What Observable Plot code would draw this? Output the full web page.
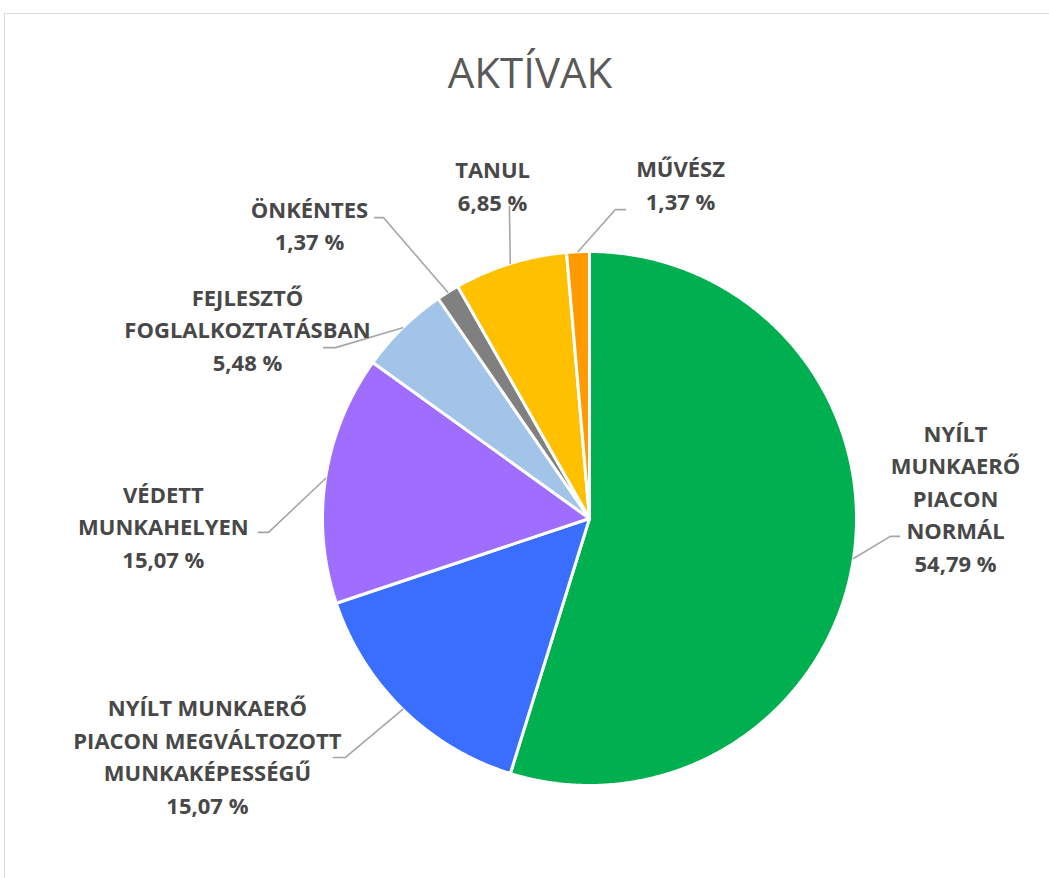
<!DOCTYPE html>
<html>
<head>
<meta charset="utf-8">
<script src="https://cdn.jsdelivr.net/npm/d3@7"></script>
<script src="https://cdn.jsdelivr.net/npm/@observablehq/plot@0.6"></script>
<style>
  html, body { margin: 0; padding: 0; background: #fff; overflow: hidden; }
  #frame { position: absolute; left: 4px; top: 13px; width: 1100px; height: 900px; border: 1.5px solid #d9d9d9; box-sizing: border-box; }
  #title { position: absolute; left: 0; top: 51px; width: 1060px; text-align: center; font-family: "Open Sans", sans-serif; font-size: 42px; line-height: 42px; color: #595959; font-weight: 400; }
  #chart { position: absolute; left: 0; top: 0; }
</style>
</head>
<body>
<div id="frame"></div>
<div id="title">AKTÍVAK</div>
<div id="chart"></div>
<script>
// ---- data ----
const categories = [
  "NYÍLT MUNKAERŐ PIACON NORMÁL",
  "NYÍLT MUNKAERŐ PIACON MEGVÁLTOZOTT MUNKAKÉPESSÉGŰ",
  "VÉDETT MUNKAHELYEN",
  "FEJLESZTŐ FOGLALKOZTATÁSBAN",
  "ÖNKÉNTES",
  "TANUL",
  "MŰVÉSZ"
];
const shares = [54.79, 15.07, 15.07, 5.48, 1.37, 6.85, 1.37];
const colors = ["#00b050", "#3a6eff", "#a06eff", "#a2c4e8", "#808080", "#ffc000", "#ff9a00"];

// label wrapping as in the original
const labelLines = [
  ["NYÍLT", "MUNKAERŐ", "PIACON", "NORMÁL"],
  ["NYÍLT MUNKAERŐ", "PIACON MEGVÁLTOZOTT", "MUNKAKÉPESSÉGŰ"],
  ["VÉDETT", "MUNKAHELYEN"],
  ["FEJLESZTŐ", "FOGLALKOZTATÁSBAN"],
  ["ÖNKÉNTES"],
  ["TANUL"],
  ["MŰVÉSZ"]
];

// ---- layout (in units of pie radius, relative to pie centre) ----
const W = 1049, H = 878;
const CX = 589, CY = 518, R = 267;
const labelPos = [[1.371, -0.083], [-1.431, 0.884], [-1.596, 0.024], [-1.281, -0.714], [-1.049, -1.104], [-0.363, -1.253], [0.341, -1.257]];
const elbowPos = [[1.127, 0.067], [-0.914, 0.895], [-1.202, 0.052], [-0.951, -0.640], [-0.772, -1.127], [-0.300, -1.169], [0.097, -1.157]];
const endPos   = [[1.161, 0.067], [-0.959, 0.895], [-1.240, 0.052], [-0.996, -0.640], [-0.805, -1.127], [-0.300, -1.169], [0.135, -1.157]];

const fmt = v => d3.format(".2f")(v).replace(".", ",") + " %";

const total = d3.sum(shares);
let acc = 0;
const slices = categories.map((c, i) => {
  const a0 = acc / total * 2 * Math.PI;
  acc += shares[i];
  const a1 = acc / total * 2 * Math.PI;
  return {name: c, value: shares[i], color: colors[i], a0, a1, mid: (a0 + a1) / 2, i};
});

// polygon points per slice (angle clockwise from top; y grows downward)
const piePts = [];
for (const s of slices) {
  piePts.push({k: s.name, color: s.color, x: 0, y: 0});
  const n = Math.max(4, Math.ceil((s.a1 - s.a0) / (Math.PI / 360)));
  for (let j = 0; j <= n; j++) {
    const a = s.a0 + (s.a1 - s.a0) * j / n;
    piePts.push({k: s.name, color: s.color, x: Math.sin(a), y: -Math.cos(a)});
  }
  piePts.push({k: s.name, color: s.color, x: 0, y: 0});
}

const leaderPts = [];
for (const s of slices) {
  leaderPts.push({k: s.name, x: Math.sin(s.mid), y: -Math.cos(s.mid)});
  leaderPts.push({k: s.name, x: elbowPos[s.i][0], y: elbowPos[s.i][1]});
  leaderPts.push({k: s.name, x: endPos[s.i][0], y: endPos[s.i][1]});
}

const labels = slices.map(s => ({
  x: labelPos[s.i][0], y: labelPos[s.i][1],
  text: labelLines[s.i].join("\n") + "\n" + fmt(s.value)
}));

const chart = Plot.plot({
  width: W, height: H,
  margin: 0,
  x: {domain: [-CX / R, (W - CX) / R], range: [0, W], axis: null},
  y: {domain: [-CY / R, (H - CY) / R], range: [0, H], axis: null},
  color: {type: "identity"},
  style: {background: "transparent"},
  marks: [
    Plot.line(piePts, {x: "x", y: "y", z: "k", fill: "color", stroke: "white", strokeWidth: 3, strokeLinejoin: "round"}),
    Plot.line(leaderPts, {x: "x", y: "y", z: "k", stroke: "#a6a6a6", strokeWidth: 1.6}),
    Plot.text(labels, {x: "x", y: "y", text: "text", fontSize: 22, fontWeight: "bold", fill: "#484848",
      fontFamily: "Open Sans", lineHeight: 1.48, textAnchor: "middle", lineAnchor: "middle"})
  ]
});
document.getElementById("chart").appendChild(chart);
</script>
</body>
</html>
